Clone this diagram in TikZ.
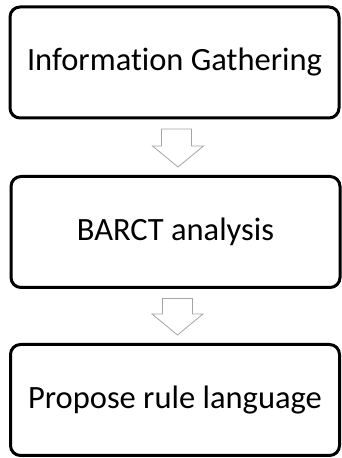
\documentclass[tikz,border=0pt]{standalone}
\usepackage{fontspec}
\setmainfont[Ligatures=NoCommon]{Carlito}
\usepackage{tikz}
\usetikzlibrary{calc}
\definecolor{arrowGray}{RGB}{165, 165, 165}

\begin{document}
\begin{tikzpicture}[x=1pt, y=1pt,
    stage/.style={draw, line width=3pt, rounded corners=10pt, minimum width=329pt,
      minimum height=111pt, inner sep=0pt, font=\fontsize{32.5}{38}\selectfont},
    hollow/.style={draw=arrowGray, fill=white, line width=0.8pt, line join=miter}]
    \useasboundingbox (0,0) rectangle (341,458);
    \node[stage] (info) at (174.5,395.5) {Information Gathering};
    \node[stage] (barct) at (175.5,226) {BARCT analysis};
    \node[stage] (rule) at (175,58) {Propose rule language};
    % hollow block arrows between the stages
    \foreach \a/\b in {info/barct, barct/rule} {
      \draw[hollow] ($(\a.south)+(-13,-9.5)$) -- ($(\a.south)+(17,-9.5)$)
        |- ($(\b.north)+(28,29)$) -- ($(\b.north)+(2.5,8)$)
        -- ($(\b.north)+(-23,29)$) -| cycle;
    }
  \end{tikzpicture}
\end{document}
